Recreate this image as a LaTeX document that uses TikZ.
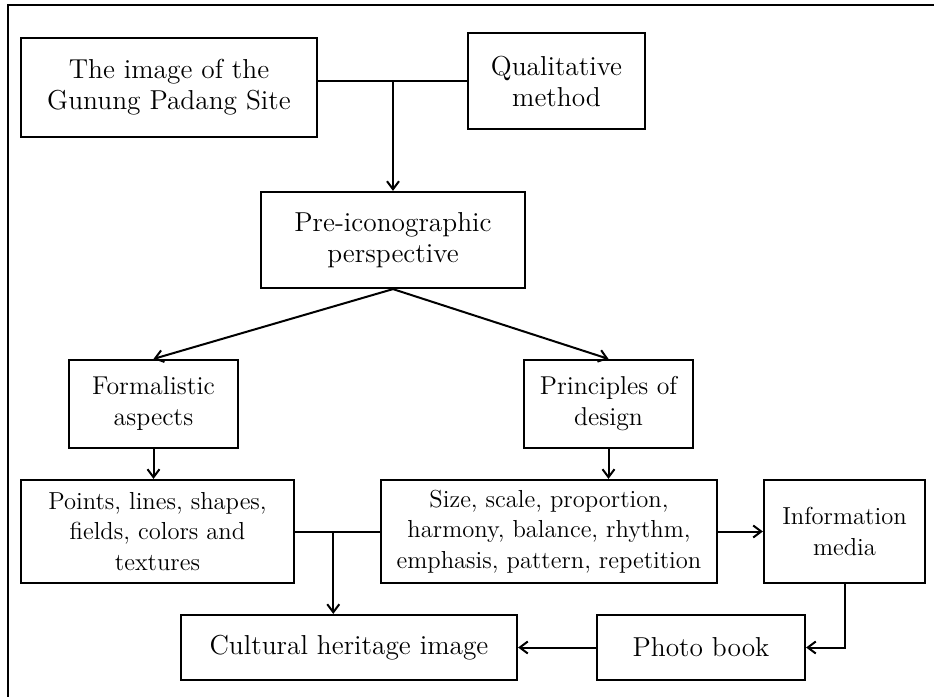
\documentclass[tikz,border=0pt]{standalone}
\usepackage{tikz}
\usetikzlibrary{arrows.meta,calc}

\begin{document}
\begin{tikzpicture}[
  x=0.5pt, y=-0.5pt,
  box/.style={draw, line width=1.1pt, inner sep=2pt, font=\fontsize{13.7}{15.5}\selectfont},
  midtext/.style={font=\fontsize{12.9}{15.5}\selectfont},
  smalltext/.style={font=\fontsize{12.3}{15.3}\selectfont},
  flow/.style={-{Straight Barb[length=4pt,width=6pt]}, line width=1pt},
  link/.style={line width=1pt},
  frame/.style={draw, line width=1pt},
  every node/.style={align=center}]

\useasboundingbox (0,0) rectangle (934,697);
\clip (0,0) rectangle (934,697);
\draw[frame] (8,5) rectangle (950,720);

% Position the nodes at the places of the figure
\node[box, minimum width=148pt, minimum height=49.5pt] (imageOfSite) at (169,87.5) {The image of the\\Gunung Padang Site};
\node[box, minimum width=88.5pt, minimum height=48pt] (qualitativeMethod) at (556.5,81) {Qualitative\\method};
\node[box, minimum width=132pt, minimum height=48pt] (preIconographic) at (393,240) {Pre-iconographic\\perspective};
\node[box, midtext, minimum width=84.5pt, minimum height=44pt] (formalisticAspects) at (153.5,404) {Formalistic\\aspects};
\node[box, midtext, minimum width=84.5pt, minimum height=44pt] (principlesOfDesign) at (608.5,404) {Principles of\\design};
\node[box, smalltext, minimum width=136.5pt, minimum height=51.5pt] (visualElements) at (157.5,531.5) {Points, lines, shapes,\\fields, colors and\\textures};
\node[box, smalltext, minimum width=168pt, minimum height=51.5pt] (designElements) at (549,531.5) {Size, scale, proportion,\\harmony, balance, rhythm,\\emphasis, pattern, repetition};
\node[box, smalltext, minimum width=80.5pt, minimum height=51.5pt] (informationMedia) at (844.5,531.5) {Information\\media};
\node[box, minimum width=168pt, minimum height=32.5pt] (culturalHeritage) at (349,647.5) {Cultural heritage image};
\node[box, minimum width=104pt, minimum height=32.5pt] (photoBook) at (701,647.5) {Photo book};

% Draw the arrows between the nodes
\draw[link] (imageOfSite.east |- qualitativeMethod.west) -- (qualitativeMethod.west);
\draw[flow] (preIconographic.north |- qualitativeMethod.west) -- (preIconographic.north);
\draw[flow] (preIconographic.south) -- (formalisticAspects.north);
\draw[flow] (preIconographic.south) -- (principlesOfDesign.north);
\draw[flow] (formalisticAspects.south) -- (formalisticAspects.south |- visualElements.north);
\draw[flow] (principlesOfDesign.south) -- (principlesOfDesign.south |- designElements.north);
\draw[link] (visualElements.east) -- (designElements.west);
\coordinate (junction) at ($(visualElements.east)!0.45!(designElements.west)$);
\draw[flow] (junction) -- (junction |- culturalHeritage.north);
\draw[flow] (designElements.east) -- (informationMedia.west);
\draw[flow] (informationMedia.south) -- (informationMedia.south |- photoBook.east) -- (photoBook.east);
\draw[flow] (photoBook.west) -- (culturalHeritage.east);

\end{tikzpicture}
\end{document}
